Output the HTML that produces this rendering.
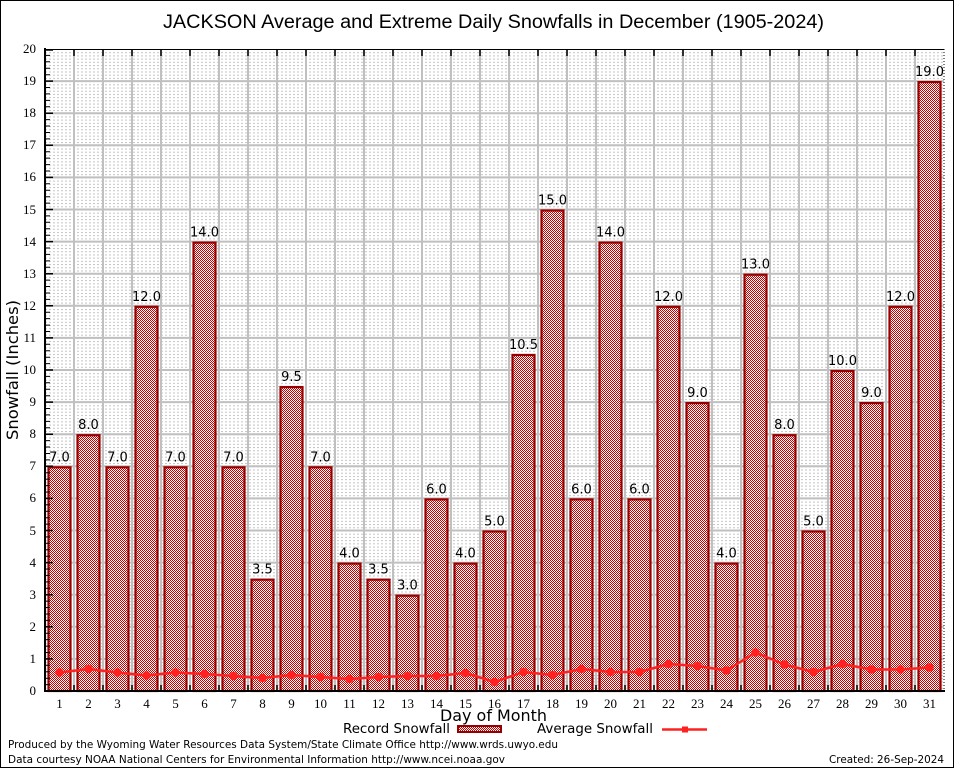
<!DOCTYPE html>
<html><head><meta charset="utf-8"><style>
html,body{margin:0;padding:0;background:#fff;}
svg{display:block;}
</style></head><body>
<svg width="954" height="768" viewBox="0 0 954 768" xmlns="http://www.w3.org/2000/svg">
<defs>
<pattern id="chk" patternUnits="userSpaceOnUse" width="2" height="2">
<rect width="2" height="2" fill="#fff"/>
<rect x="0" y="0" width="1" height="1" fill="#c80000"/>
<rect x="1" y="1" width="1" height="1" fill="#c80000"/>
</pattern>
<pattern id="minor" patternUnits="userSpaceOnUse" x="45" y="49" width="4" height="3.21">
<rect x="0" y="0" width="2" height="1" fill="#c4c4c4"/>
</pattern>
</defs>
<rect x="0.5" y="0.5" width="953" height="767" fill="#fff" stroke="#000" stroke-width="1"/>
<text x="163" y="28" font-family="Liberation Sans, sans-serif" font-size="19" textLength="661" lengthAdjust="spacingAndGlyphs">JACKSON Average and Extreme Daily Snowfalls in December (1905-2024)</text>

<!-- minor grid -->
<rect x="46" y="49" width="898" height="642" fill="url(#minor)"/>
<!-- major horizontal grid -->
<g stroke="#c0c0c0" stroke-width="2">
<line x1="45" y1="658.9" x2="944" y2="658.9"/><line x1="45" y1="626.8" x2="944" y2="626.8"/>
<line x1="45" y1="594.7" x2="944" y2="594.7"/><line x1="45" y1="562.6" x2="944" y2="562.6"/>
<line x1="45" y1="530.5" x2="944" y2="530.5"/><line x1="45" y1="498.4" x2="944" y2="498.4"/>
<line x1="45" y1="466.3" x2="944" y2="466.3"/><line x1="45" y1="434.2" x2="944" y2="434.2"/>
<line x1="45" y1="402.1" x2="944" y2="402.1"/><line x1="45" y1="370" x2="944" y2="370"/>
<line x1="45" y1="337.9" x2="944" y2="337.9"/><line x1="45" y1="305.8" x2="944" y2="305.8"/>
<line x1="45" y1="273.7" x2="944" y2="273.7"/><line x1="45" y1="241.6" x2="944" y2="241.6"/>
<line x1="45" y1="209.5" x2="944" y2="209.5"/><line x1="45" y1="177.4" x2="944" y2="177.4"/>
<line x1="45" y1="145.3" x2="944" y2="145.3"/><line x1="45" y1="113.2" x2="944" y2="113.2"/>
<line x1="45" y1="81.1" x2="944" y2="81.1"/>
</g>
<!-- vertical grid -->
<g stroke="#c0c0c0" stroke-width="2">
<line x1="74" y1="49" x2="74" y2="691"/><line x1="103" y1="49" x2="103" y2="691"/><line x1="132" y1="49" x2="132" y2="691"/>
<line x1="161" y1="49" x2="161" y2="691"/><line x1="190" y1="49" x2="190" y2="691"/><line x1="219" y1="49" x2="219" y2="691"/>
<line x1="248" y1="49" x2="248" y2="691"/><line x1="277" y1="49" x2="277" y2="691"/><line x1="306" y1="49" x2="306" y2="691"/>
<line x1="335" y1="49" x2="335" y2="691"/><line x1="364" y1="49" x2="364" y2="691"/><line x1="393" y1="49" x2="393" y2="691"/>
<line x1="422" y1="49" x2="422" y2="691"/><line x1="451" y1="49" x2="451" y2="691"/><line x1="480" y1="49" x2="480" y2="691"/>
<line x1="509" y1="49" x2="509" y2="691"/><line x1="538" y1="49" x2="538" y2="691"/><line x1="567" y1="49" x2="567" y2="691"/>
<line x1="596" y1="49" x2="596" y2="691"/><line x1="625" y1="49" x2="625" y2="691"/><line x1="654" y1="49" x2="654" y2="691"/>
<line x1="683" y1="49" x2="683" y2="691"/><line x1="712" y1="49" x2="712" y2="691"/><line x1="741" y1="49" x2="741" y2="691"/>
<line x1="770" y1="49" x2="770" y2="691"/><line x1="799" y1="49" x2="799" y2="691"/><line x1="828" y1="49" x2="828" y2="691"/>
<line x1="857" y1="49" x2="857" y2="691"/><line x1="886" y1="49" x2="886" y2="691"/><line x1="915" y1="49" x2="915" y2="691"/>
</g>

<!-- bars -->
<g fill="url(#chk)" stroke="#960000" stroke-width="2.2">
<rect x="48.5" y="467.3" width="22" height="223.7"/>
<rect x="77.5" y="435.2" width="22" height="255.8"/>
<rect x="106.5" y="467.3" width="22" height="223.7"/>
<rect x="135.5" y="306.8" width="22" height="384.2"/>
<rect x="164.5" y="467.3" width="22" height="223.7"/>
<rect x="193.5" y="242.6" width="22" height="448.4"/>
<rect x="222.5" y="467.3" width="22" height="223.7"/>
<rect x="251.5" y="579.65" width="22" height="111.35"/>
<rect x="280.5" y="387.05" width="22" height="303.95"/>
<rect x="309.5" y="467.3" width="22" height="223.7"/>
<rect x="338.5" y="563.6" width="22" height="127.4"/>
<rect x="367.5" y="579.65" width="22" height="111.35"/>
<rect x="396.5" y="595.7" width="22" height="95.3"/>
<rect x="425.5" y="499.4" width="22" height="191.6"/>
<rect x="454.5" y="563.6" width="22" height="127.4"/>
<rect x="483.5" y="531.5" width="22" height="159.5"/>
<rect x="512.5" y="354.95" width="22" height="336.05"/>
<rect x="541.5" y="210.5" width="22" height="480.5"/>
<rect x="570.5" y="499.4" width="22" height="191.6"/>
<rect x="599.5" y="242.6" width="22" height="448.4"/>
<rect x="628.5" y="499.4" width="22" height="191.6"/>
<rect x="657.5" y="306.8" width="22" height="384.2"/>
<rect x="686.5" y="403.1" width="22" height="287.9"/>
<rect x="715.5" y="563.6" width="22" height="127.4"/>
<rect x="744.5" y="274.7" width="22" height="416.3"/>
<rect x="773.5" y="435.2" width="22" height="255.8"/>
<rect x="802.5" y="531.5" width="22" height="159.5"/>
<rect x="831.5" y="371" width="22" height="320"/>
<rect x="860.5" y="403.1" width="22" height="287.9"/>
<rect x="889.5" y="306.8" width="22" height="384.2"/>
<rect x="918.5" y="82.1" width="22" height="608.9"/>
</g>

<!-- bar labels -->
<g font-family="DejaVu Sans, Liberation Sans, sans-serif" font-size="13" text-anchor="middle" fill="#000">
<text x="59.5" y="461.3">7.0</text>
<text x="88.5" y="429.2">8.0</text>
<text x="117.5" y="461.3">7.0</text>
<text x="146.5" y="300.8">12.0</text>
<text x="175.5" y="461.3">7.0</text>
<text x="204.5" y="236.6">14.0</text>
<text x="233.5" y="461.3">7.0</text>
<text x="262.5" y="573.65">3.5</text>
<text x="291.5" y="381.05">9.5</text>
<text x="320.5" y="461.3">7.0</text>
<text x="349.5" y="557.6">4.0</text>
<text x="378.5" y="573.65">3.5</text>
<text x="407.5" y="589.7">3.0</text>
<text x="436.5" y="493.4">6.0</text>
<text x="465.5" y="557.6">4.0</text>
<text x="494.5" y="525.5">5.0</text>
<text x="523.5" y="348.95">10.5</text>
<text x="552.5" y="204.5">15.0</text>
<text x="581.5" y="493.4">6.0</text>
<text x="610.5" y="236.6">14.0</text>
<text x="639.5" y="493.4">6.0</text>
<text x="668.5" y="300.8">12.0</text>
<text x="697.5" y="397.1">9.0</text>
<text x="726.5" y="557.6">4.0</text>
<text x="755.5" y="268.7">13.0</text>
<text x="784.5" y="429.2">8.0</text>
<text x="813.5" y="525.5">5.0</text>
<text x="842.5" y="365">10.0</text>
<text x="871.5" y="397.1">9.0</text>
<text x="900.5" y="300.8">12.0</text>
<text x="929.5" y="76.1">19.0</text>
</g>

<!-- average line -->
<polyline fill="none" stroke="#ff2020" stroke-width="2.5" stroke-linejoin="round" points="59.5,672.5 88.5,669 117.5,672.5 146.5,675.5 175.5,672.5 204.5,674 233.5,676 262.5,678 291.5,675 320.5,677 349.5,679 378.5,677 407.5,676 436.5,676 465.5,673 494.5,682 523.5,672 552.5,675 581.5,669 610.5,672 639.5,672 668.5,664 697.5,666 726.5,670.5 755.5,652.5 784.5,664.5 813.5,672 842.5,664 871.5,669.5 900.5,669.5 929.5,667.5"/>
<g fill="#ff2020">
<circle cx="59.5" cy="672.5" r="4.2"/><circle cx="88.5" cy="669" r="4.2"/><circle cx="117.5" cy="672.5" r="4.2"/>
<circle cx="146.5" cy="675.5" r="4.2"/><circle cx="175.5" cy="672.5" r="4.2"/><circle cx="204.5" cy="674" r="4.2"/>
<circle cx="233.5" cy="676" r="4.2"/><circle cx="262.5" cy="678" r="4.2"/><circle cx="291.5" cy="675" r="4.2"/>
<circle cx="320.5" cy="677" r="4.2"/><circle cx="349.5" cy="679" r="4.2"/><circle cx="378.5" cy="677" r="4.2"/>
<circle cx="407.5" cy="676" r="4.2"/><circle cx="436.5" cy="676" r="4.2"/><circle cx="465.5" cy="673" r="4.2"/>
<circle cx="494.5" cy="682" r="4.2"/><circle cx="523.5" cy="672" r="4.2"/><circle cx="552.5" cy="675" r="4.2"/>
<circle cx="581.5" cy="669" r="4.2"/><circle cx="610.5" cy="672" r="4.2"/><circle cx="639.5" cy="672" r="4.2"/>
<circle cx="668.5" cy="664" r="4.2"/><circle cx="697.5" cy="666" r="4.2"/><circle cx="726.5" cy="670.5" r="4.2"/>
<circle cx="755.5" cy="652.5" r="4.2"/><circle cx="784.5" cy="664.5" r="4.2"/><circle cx="813.5" cy="672" r="4.2"/>
<circle cx="842.5" cy="664" r="4.2"/><circle cx="871.5" cy="669.5" r="4.2"/><circle cx="900.5" cy="669.5" r="4.2"/>
<circle cx="929.5" cy="667.5" r="4.2"/>
</g>

<!-- frame -->
<line x1="45" y1="49.5" x2="944" y2="49.5" stroke="#000" stroke-width="1"/>
<line x1="944" y1="49" x2="944" y2="691" stroke="#000" stroke-width="1" stroke-dasharray="1,2"/>
<line x1="45" y1="48" x2="45" y2="692" stroke="#000" stroke-width="2"/>
<line x1="44" y1="691" x2="945" y2="691" stroke="#000" stroke-width="2"/>

<!-- top & bottom ticks -->
<g stroke="#000" stroke-width="1.5">
<path d="M74 49v7M103 49v7M132 49v7M161 49v7M190 49v7M219 49v7M248 49v7M277 49v7M306 49v7M335 49v7M364 49v7M393 49v7M422 49v7M451 49v7M480 49v7M509 49v7M538 49v7M567 49v7M596 49v7M625 49v7M654 49v7M683 49v7M712 49v7M741 49v7M770 49v7M799 49v7M828 49v7M857 49v7M886 49v7M915 49v7"/>
<path d="M74 691v-6M103 691v-6M132 691v-6M161 691v-6M190 691v-6M219 691v-6M248 691v-6M277 691v-6M306 691v-6M335 691v-6M364 691v-6M393 691v-6M422 691v-6M451 691v-6M480 691v-6M509 691v-6M538 691v-6M567 691v-6M596 691v-6M625 691v-6M654 691v-6M683 691v-6M712 691v-6M741 691v-6M770 691v-6M799 691v-6M828 691v-6M857 691v-6M886 691v-6M915 691v-6"/>
</g>
<!-- left ticks -->
<g stroke="#000" stroke-width="1.5">
<path d="M45 658.9h8M45 626.8h8M45 594.7h8M45 562.6h8M45 530.5h8M45 498.4h8M45 466.3h8M45 434.2h8M45 402.1h8M45 370h8M45 337.9h8M45 305.8h8M45 273.7h8M45 241.6h8M45 209.5h8M45 177.4h8M45 145.3h8M45 113.2h8M45 81.1h8M45 50h8"/>
</g>
<g stroke="#000" stroke-width="1">
<path d="M45 684.6h5M45 678.2h5M45 671.7h5M45 665.3h5
M45 652.5h5M45 646.1h5M45 639.6h5M45 633.2h5
M45 620.4h5M45 614h5M45 607.5h5M45 601.1h5
M45 588.3h5M45 581.9h5M45 575.4h5M45 569h5
M45 556.2h5M45 549.8h5M45 543.3h5M45 536.9h5
M45 524.1h5M45 517.7h5M45 511.2h5M45 504.8h5
M45 492h5M45 485.6h5M45 479.1h5M45 472.7h5
M45 459.9h5M45 453.5h5M45 447h5M45 440.6h5
M45 427.8h5M45 421.4h5M45 414.9h5M45 408.5h5
M45 395.7h5M45 389.3h5M45 382.8h5M45 376.4h5
M45 363.6h5M45 357.2h5M45 350.7h5M45 344.3h5
M45 331.5h5M45 325.1h5M45 318.6h5M45 312.2h5
M45 299.4h5M45 293h5M45 286.5h5M45 280.1h5
M45 267.3h5M45 260.9h5M45 254.4h5M45 248h5
M45 235.2h5M45 228.8h5M45 222.3h5M45 215.9h5
M45 203.1h5M45 196.7h5M45 190.2h5M45 183.8h5
M45 171h5M45 164.6h5M45 158.1h5M45 151.7h5
M45 138.9h5M45 132.5h5M45 126h5M45 119.6h5
M45 106.8h5M45 100.4h5M45 93.9h5M45 87.5h5
M45 74.7h5M45 68.3h5M45 61.8h5M45 55.4h5"/>
</g>

<!-- y tick labels -->
<g font-family="Liberation Serif, serif" font-size="13" text-anchor="end" fill="#000">
<text x="36" y="695">0</text><text x="36" y="663">1</text><text x="36" y="631">2</text>
<text x="36" y="599">3</text><text x="36" y="567">4</text><text x="36" y="535">5</text>
<text x="36" y="502">6</text><text x="36" y="470">7</text><text x="36" y="438">8</text>
<text x="36" y="406">9</text><text x="36" y="374">10</text><text x="36" y="342">11</text>
<text x="36" y="310">12</text><text x="36" y="278">13</text><text x="36" y="246">14</text>
<text x="36" y="214">15</text><text x="36" y="181">16</text><text x="36" y="149">17</text>
<text x="36" y="117">18</text><text x="36" y="85">19</text><text x="36" y="53">20</text>
</g>
<!-- x tick labels -->
<g font-family="Liberation Serif, serif" font-size="13" text-anchor="middle" fill="#000">
<text x="59.5" y="708">1</text><text x="88.5" y="708">2</text><text x="117.5" y="708">3</text>
<text x="146.5" y="708">4</text><text x="175.5" y="708">5</text><text x="204.5" y="708">6</text>
<text x="233.5" y="708">7</text><text x="262.5" y="708">8</text><text x="291.5" y="708">9</text>
<text x="320.5" y="708">10</text><text x="349.5" y="708">11</text><text x="378.5" y="708">12</text>
<text x="407.5" y="708">13</text><text x="436.5" y="708">14</text><text x="465.5" y="708">15</text>
<text x="494.5" y="708">16</text><text x="523.5" y="708">17</text><text x="552.5" y="708">18</text>
<text x="581.5" y="708">19</text><text x="610.5" y="708">20</text><text x="639.5" y="708">21</text>
<text x="668.5" y="708">22</text><text x="697.5" y="708">23</text><text x="726.5" y="708">24</text>
<text x="755.5" y="708">25</text><text x="784.5" y="708">26</text><text x="813.5" y="708">27</text>
<text x="842.5" y="708">28</text><text x="871.5" y="708">29</text><text x="900.5" y="708">30</text>
<text x="929.5" y="708">31</text>
</g>

<!-- axis titles -->
<text x="440" y="721" font-family="DejaVu Sans, Liberation Sans, sans-serif" font-size="16" textLength="107" lengthAdjust="spacingAndGlyphs">Day of Month</text>
<text transform="translate(18,440) rotate(-90)" x="0" y="0" font-family="DejaVu Sans, Liberation Sans, sans-serif" font-size="16" textLength="140" lengthAdjust="spacingAndGlyphs">Snowfall (Inches)</text>

<!-- legend -->
<text x="343" y="733" font-family="DejaVu Sans, Liberation Sans, sans-serif" font-size="13" textLength="107" lengthAdjust="spacingAndGlyphs">Record Snowfall</text>
<rect x="458" y="726" width="43" height="6" fill="url(#chk)" stroke="#960000" stroke-width="2"/>
<text x="537" y="733" font-family="DejaVu Sans, Liberation Sans, sans-serif" font-size="13" textLength="116" lengthAdjust="spacingAndGlyphs">Average Snowfall</text>
<line x1="662" y1="729.5" x2="707" y2="729.5" stroke="#ff2020" stroke-width="2.5"/>
<rect x="682" y="726.5" width="6" height="6" fill="#ff2020"/>

<!-- footer -->
<g font-family="DejaVu Sans, Liberation Sans, sans-serif" font-size="11" fill="#000">
<text x="8" y="748" textLength="550" lengthAdjust="spacingAndGlyphs">Produced by the Wyoming Water Resources Data System/State Climate Office http://www.wrds.uwyo.edu</text>
<text x="8" y="763" textLength="497" lengthAdjust="spacingAndGlyphs">Data courtesy NOAA National Centers for Environmental Information http://www.ncei.noaa.gov</text>
<text x="829" y="763" textLength="115" lengthAdjust="spacingAndGlyphs">Created: 26-Sep-2024</text>
</g>
</svg>
</body></html>
